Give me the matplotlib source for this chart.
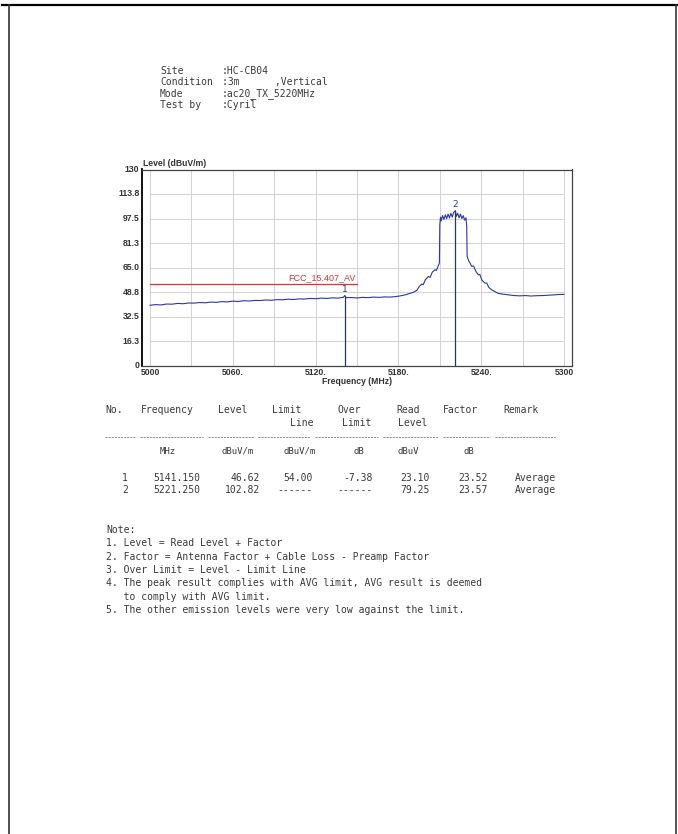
import matplotlib
matplotlib.use('Agg')
import matplotlib.pyplot as plt
from matplotlib.lines import Line2D

# header info
header_keys = ['Site', 'Condition', 'Mode', 'Test by']
header_vals = [':HC-CB04', ':3m      ,Vertical', ':ac20_TX_5220MHz', ':Cyril']

trace_freq = [5000, 5004, 5008, 5012, 5016, 5020, 5024, 5028, 5032, 5036, 5040, 5044,
              5048, 5052, 5056, 5060, 5064, 5068, 5072, 5076, 5080, 5084, 5088, 5092,
              5096, 5100, 5104, 5108, 5112, 5116, 5120, 5124, 5128, 5132, 5136, 5140,
              5141.15, 5142, 5146, 5150, 5154, 5158, 5162, 5166, 5170, 5174, 5178, 5182,
              5185, 5188, 5190, 5192, 5193.5, 5195, 5196.9, 5198, 5199.5, 5201.7, 5203,
              5204.5, 5206.5, 5207.5, 5209.7,
              5210, 5210.5, 5211, 5212, 5213, 5214, 5215, 5216, 5217, 5218, 5219,
              5220, 5221.25, 5222, 5223, 5224, 5225, 5226, 5227, 5228, 5229, 5229.5, 5229.8,
              5231, 5232, 5233.1, 5234.5, 5236, 5237.9, 5239, 5240.5, 5242.8, 5244, 5245.5,
              5247.6, 5250, 5252.4, 5256, 5259.6,
              5264, 5268, 5272, 5276, 5280, 5284, 5288, 5292, 5296, 5300]
trace_level = [40.2, 40.6, 40.4, 41.0, 40.9, 41.4, 41.2, 41.7, 41.6, 42.0, 41.8, 42.3,
               42.1, 42.6, 42.4, 42.9, 42.7, 43.2, 43.0, 43.4, 43.3, 43.7, 43.5, 43.9,
               43.8, 44.2, 44.0, 44.4, 44.3, 44.7, 44.5, 44.9, 44.7, 45.1, 44.9, 45.4,
               46.62, 45.2, 45.3, 45.0, 45.4, 45.2, 45.6, 45.4, 45.7, 45.6, 45.9, 46.5,
               47.1, 47.9, 48.5, 49.3, 50.2, 52.5, 54.2, 53.8, 57.0, 59.2, 58.6,
               62.0, 63.7, 63.2, 68.1,
               93.5, 98.5, 96.0, 99.5, 97.0, 100.0, 97.5, 100.5, 98.0, 101.0, 98.5,
               101.5, 102.82, 99.0, 101.0, 98.0, 100.5, 97.5, 99.5, 96.5, 98.0, 92.4, 72.5,
               69.5, 68.0, 65.9, 66.2, 62.8, 60.3, 60.6, 56.8, 54.8, 54.9, 52.0,
               50.4, 49.2, 48.0, 47.5, 47.1,
               46.6, 46.4, 46.6, 46.3, 46.5, 46.6, 46.8, 47.0, 47.3, 47.4]

limit_freq = [5000, 5150]
limit_level = [54.0, 54.0]
limit_name = 'FCC_15.407_AV'

marker_no = ['1', '2']
marker_freq = [5141.150, 5221.250]
marker_level = [46.62, 102.82]

y_ticks = [0, 16.3, 32.5, 48.8, 65.0, 81.3, 97.5, 113.8, 130]
y_labels = ['0', '16.3', '32.5', '48.8', '65.0', '81.3', '97.5', '113.8', '130']
x_ticks = [5000, 5060, 5120, 5180, 5240, 5300]
x_labels = ['5000', '5060.', '5120.', '5180.', '5240.', '5300']
x_grid = [5000, 5030, 5060, 5090, 5120, 5150, 5180, 5210, 5240, 5270, 5300]

# result table
table_head1 = ['No.', 'Frequency', 'Level', 'Limit', 'Over', 'Read', 'Factor', 'Remark']
table_head2 = ['', '', '', 'Line', 'Limit', 'Level', '', '']
table_units = ['', 'MHz', 'dBuV/m', 'dBuV/m', 'dB', 'dBuV', 'dB', '']
table_rows = [
    ['1', '5141.150', '46.62', '54.00', '-7.38', '23.10', '23.52', 'Average'],
    ['2', '5221.250', '102.82', '------', '------', '79.25', '23.57', 'Average'],
]

notes = [
    'Note:',
    '1. Level = Read Level + Factor',
    '2. Factor = Antenna Factor + Cable Loss - Preamp Factor',
    '3. Over Limit = Level - Limit Line',
    '4. The peak result complies with AVG limit, AVG result is deemed',
    '   to comply with AVG limit.',
    '5. The other emission levels were very low against the limit.',
]

W, H = 678, 834
fig = plt.figure(figsize=(W / 100, H / 100), dpi=100)
fig.patch.set_facecolor('white')


def fx(px):
    return px / W


def fy(py):
    return 1 - py / H


mono = 'DejaVu Sans Mono'
txt_col = '#3a3a3a'

# page border
fig.add_artist(Line2D([fx(2), fx(678)], [fy(5), fy(5)], color='black', lw=1.6))
fig.add_artist(Line2D([fx(9), fx(9)], [fy(5), fy(834)], color='#333333', lw=1.2))
fig.add_artist(Line2D([fx(676), fx(676)], [fy(5), fy(834)], color='#333333', lw=1.2))

# header block
for i, (k, v) in enumerate(zip(header_keys, header_vals)):
    y = fy(71 + i * 11.4)
    fig.text(fx(160), y, k, fontsize=7, family=mono, color=txt_col, va='center')
    fig.text(fx(222), y, v, fontsize=7, family=mono, color=txt_col, va='center')

# chart: frame is a bit wider than the 5000-5300 data span
ax = fig.add_axes([fx(142), fy(366), (572 - 142) / W, (366 - 169.5) / H])
ax.set_xlim(5000 - 8 / 1.38, 5300 + 8 / 1.38)
ax.set_ylim(0, 130)
ax.hlines(y_ticks, x_grid[0], x_grid[-1], color='#d3d3d3', lw=0.7, zorder=0)
ax.vlines(x_grid, 0, 130, color='#d3d3d3', lw=0.7, zorder=0)

ax.plot(trace_freq, trace_level, color='#2a36aa', lw=0.8)
ax.plot(limit_freq, limit_level, color='#dd3333', lw=0.9)
ax.text(limit_freq[1] - 1, limit_level[1] + 1.3, limit_name, color='#dd3333',
        fontsize=6.5, ha='right', va='bottom', family='Liberation Sans')
for n, f, lv in zip(marker_no, marker_freq, marker_level):
    ax.plot([f, f], [0, lv], color='#2a3560', lw=0.9)
    ax.text(f, lv + 1.0, n, color='#2a3a90', fontsize=6.5, ha='center', va='bottom')

ax.set_xticks([])
ax.set_yticks([])
for s in ax.spines.values():
    s.set_color('#444444')
    s.set_linewidth(0.9)
ax.spines['left'].set_color('black')
ax.spines['left'].set_linewidth(1.3)

lab = dict(fontsize=6.2, fontweight='bold', color='#333333', family='Liberation Sans')
for t, l in zip(y_ticks, y_labels):
    ax.text(-0.006, t, l, transform=ax.get_yaxis_transform(), ha='right', va='center', **lab)
for t, l in zip(x_ticks, x_labels):
    ax.text(t, -0.01, l, transform=ax.get_xaxis_transform(), ha='center', va='top', **lab)
ax.text(0.003, 1.008, 'Level (dBuV/m)', transform=ax.transAxes, ha='left', va='bottom', **lab)
ax.text(5150, -0.055, 'Frequency (MHz)', transform=ax.get_xaxis_transform(),
        ha='center', va='top', **lab)

# table
head_x = [105, 141, 218, 272, 337, 396, 443, 503]
head2_x = [0, 0, 0, 290, 342, 398, 0, 0]
unit_x = [0, 160, 222, 283, 353, 398, 463, 0]
row_right_x = [128, 200, 260, 313, 373, 430, 488, 0]
for i, h in enumerate(table_head1):
    fig.text(fx(head_x[i]), fy(410), h, fontsize=7, family=mono, color=txt_col, va='center')
for i, h in enumerate(table_head2):
    if h:
        fig.text(fx(head2_x[i]), fy(423), h, fontsize=7, family=mono, color=txt_col, va='center')
dash_segs = [(105, 135), (140, 203), (208, 253), (258, 310), (315, 378), (383, 438), (443, 490), (495, 555)]
for a, b in dash_segs:
    fig.add_artist(Line2D([fx(a), fx(b)], [fy(437), fy(437)], color='#7a7a7a', lw=0.6,
                          linestyle=(0, (2.5, 1.2))))
for i, u in enumerate(table_units):
    if u:
        fig.text(fx(unit_x[i]), fy(451), u, fontsize=6.5, family=mono, color=txt_col, va='center')
for r, row in enumerate(table_rows):
    y = fy(478 + r * 12)
    for i, v in enumerate(row):
        if i == len(row) - 1:
            fig.text(fx(515), y, v, fontsize=7, family=mono, color=txt_col, va='center')
        else:
            fig.text(fx(row_right_x[i]), y, v, fontsize=7, family=mono, color=txt_col,
                     va='center', ha='right')

# notes
for i, line in enumerate(notes):
    fig.text(fx(106), fy(530 + i * 13.3), line, fontsize=7, family=mono, color=txt_col, va='center')

fig.savefig('out.png', dpi=100, facecolor='white')
